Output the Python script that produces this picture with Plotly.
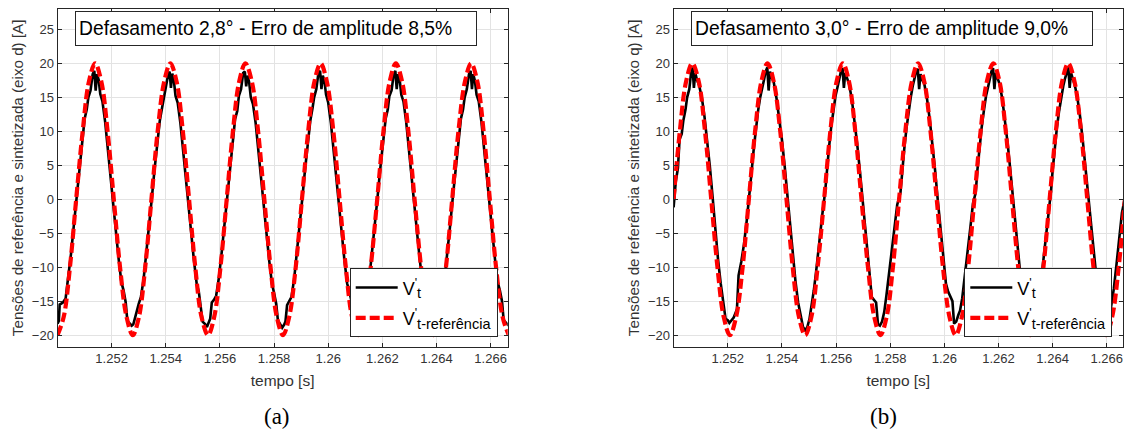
import plotly.graph_objects as go

T0 = 1.25  # start of the displayed window [s]

# ---------------------------------------------------------------------------
# Reference currents (V't-referência), time in ms after T0
# ---------------------------------------------------------------------------
t_ref_ms = [0.00, 0.23, 0.46, 0.69, 0.93, 1.16, 1.39, 1.62, 1.85, 2.08, 2.31, 2.55,
            2.78, 3.01, 3.24, 3.47, 3.70, 3.94, 4.17, 4.40, 4.63, 4.86, 5.09, 5.32,
            5.56, 5.79, 6.02, 6.25, 6.48, 6.71, 6.94, 7.18, 7.41, 7.64, 7.87, 8.10,
            8.33, 8.56, 8.80, 9.03, 9.26, 9.49, 9.72, 9.95, 10.19, 10.42, 10.65, 10.88,
            11.11, 11.34, 11.57, 11.81, 12.04, 12.27, 12.50, 12.73, 12.96, 13.19, 13.43, 13.66,
            13.89, 14.12, 14.35, 14.58, 14.81, 15.05, 15.28, 15.51, 15.74, 15.97, 16.20, 16.44,
            16.67]

vref_d = [-20.0, -17.3, -10.0, 0.0, 10.0, 17.3, 20.0, 17.3, 10.0, 0.0, -10.0, -17.3,
          -20.0, -17.3, -10.0, 0.0, 10.0, 17.3, 20.0, 17.3, 10.0, 0.0, -10.0, -17.3,
          -20.0, -17.3, -10.0, 0.0, 10.0, 17.3, 20.0, 17.3, 10.0, 0.0, -10.0, -17.3,
          -20.0, -17.3, -10.0, 0.0, 10.0, 17.3, 20.0, 17.3, 10.0, 0.0, -10.0, -17.3,
          -20.0, -17.3, -10.0, 0.0, 10.0, 17.3, 20.0, 17.3, 10.0, 0.0, -10.0, -17.3,
          -20.0, -17.3, -10.0, 0.0, 10.0, 17.3, 20.0, 17.3, 10.0, 0.0, -10.0, -17.3,
          -20.0]

vref_q = [0.0, 10.0, 17.3, 20.0, 17.3, 10.0, 0.0, -10.0, -17.3, -20.0, -17.3, -10.0,
          0.0, 10.0, 17.3, 20.0, 17.3, 10.0, 0.0, -10.0, -17.3, -20.0, -17.3, -10.0,
          0.0, 10.0, 17.3, 20.0, 17.3, 10.0, 0.0, -10.0, -17.3, -20.0, -17.3, -10.0,
          0.0, 10.0, 17.3, 20.0, 17.3, 10.0, 0.0, -10.0, -17.3, -20.0, -17.3, -10.0,
          0.0, 10.0, 17.3, 20.0, 17.3, 10.0, 0.0, -10.0, -17.3, -20.0, -17.3, -10.0,
          0.0, 10.0, 17.3, 20.0, 17.3, 10.0, 0.0, -10.0, -17.3, -20.0, -17.3, -10.0,
          0.0]

# ---------------------------------------------------------------------------
# Synthesized current V't, d axis (time in ms after T0)
# ---------------------------------------------------------------------------
t_d_ms = [
    0.00, 0.05, 0.08, 0.20, 0.30, 0.40, 0.50, 0.60, 0.70, 0.80, 0.90, 1.00, 1.08, 1.14, 1.22, 1.30, 1.36,
    1.41, 1.46, 1.52, 1.58, 1.66, 1.76, 1.86, 1.96, 2.06, 2.16, 2.26, 2.36, 2.44, 2.52, 2.58, 2.68, 2.74,
    2.80, 2.86, 2.92, 3.00, 3.08, 3.18, 3.28, 3.38, 3.48, 3.58, 3.68, 3.78, 3.86, 3.92, 4.00, 4.08, 4.14,
    4.19, 4.24, 4.30, 4.36, 4.44, 4.54, 4.64, 4.74, 4.84, 4.94, 5.04, 5.14, 5.22, 5.30, 5.36, 5.46, 5.52,
    5.60, 5.64, 5.70, 5.78, 5.86, 5.96, 6.06, 6.16, 6.26, 6.36, 6.46, 6.56, 6.64, 6.70, 6.78, 6.86, 6.92,
    6.97, 7.02, 7.08, 7.14, 7.22, 7.32, 7.42, 7.52, 7.62, 7.72, 7.82, 7.92, 8.00, 8.08, 8.14, 8.24, 8.30,
    8.38, 8.42, 8.48, 8.56, 8.64, 8.74, 8.84, 8.94, 9.04, 9.14, 9.24, 9.34, 9.42, 9.48, 9.56, 9.64, 9.70,
    9.75, 9.80, 9.86, 9.92, 10.00, 10.10, 10.20, 10.30, 10.40, 10.50, 10.60, 10.70, 10.78, 10.86, 10.92, 11.02, 11.08,
    11.16, 11.20, 11.26, 11.34, 11.42, 11.52, 11.62, 11.72, 11.82, 11.92, 12.02, 12.12, 12.20, 12.26, 12.34, 12.42, 12.48,
    12.53, 12.58, 12.64, 12.70, 12.78, 12.88, 12.98, 13.08, 13.18, 13.28, 13.38, 13.48, 13.56, 13.64, 13.70, 13.80, 13.86,
    13.94, 13.98, 14.04, 14.12, 14.20, 14.30, 14.40, 14.50, 14.60, 14.70, 14.80, 14.90, 14.98, 15.04, 15.12, 15.20, 15.26,
    15.31, 15.36, 15.42, 15.48, 15.56, 15.66, 15.76, 15.86, 15.96, 16.06, 16.16, 16.26, 16.34, 16.42, 16.48, 16.58, 16.67,
]
vt_d = [
    -18.3, -17.9, -15.5, -15.2, -14.6, -11.6, -8.0, -4.0, 0.2, 4.4, 8.4, 11.8, 13.2, 15.0, 16.0, 18.4, 18.9,
    16.0, 18.4, 17.6, 15.5, 14.4, 11.4, 7.6, 3.6, -0.6, -4.8, -8.8, -12.2, -13.4, -15.2, -17.9, -18.3, -18.6,
    -18.4, -17.3, -16.6, -15.4, -14.4, -11.8, -8.2, -4.2, 0.0, 4.2, 8.2, 11.6, 13.4, 14.8, 16.4, 18.2, 18.8,
    16.4, 18.5, 17.4, 15.2, 14.2, 11.2, 7.4, 3.4, -0.8, -5.0, -9.0, -12.4, -13.6, -15.8, -18.0, -18.4, -18.8,
    -18.0, -17.6, -15.2, -14.8, -14.2, -11.6, -8.0, -4.0, 0.2, 4.4, 8.4, 11.8, 13.0, 15.2, 16.2, 18.6, 18.8,
    16.6, 18.2, 17.2, 15.0, 14.0, 11.2, 7.4, 3.4, -0.8, -5.0, -9.0, -12.4, -13.8, -15.4, -17.8, -18.6, -18.9,
    -18.4, -18.0, -15.6, -15.0, -14.4, -11.8, -8.2, -4.2, 0.0, 4.2, 8.2, 11.6, 13.4, 15.0, 16.2, 18.6, 18.9,
    16.2, 18.2, 17.4, 15.4, 14.2, 11.2, 7.4, 3.4, -0.8, -5.0, -9.0, -12.4, -13.6, -15.0, -17.6, -18.0, -18.3,
    -18.2, -17.4, -15.4, -15.0, -14.6, -11.6, -8.0, -4.0, 0.2, 4.4, 8.4, 11.8, 13.2, 15.2, 16.0, 18.4, 18.9,
    16.2, 18.4, 17.6, 15.4, 14.4, 11.4, 7.6, 3.6, -0.6, -4.8, -8.8, -12.2, -13.6, -15.6, -18.0, -18.4, -18.8,
    -18.3, -17.8, -15.6, -15.2, -14.4, -11.6, -8.0, -4.0, 0.2, 4.4, 8.4, 11.8, 13.2, 15.0, 16.2, 18.4, 18.9,
    16.2, 18.4, 17.4, 15.4, 14.4, 11.4, 7.6, 3.6, -0.6, -4.8, -8.8, -12.2, -13.4, -15.0, -17.8, -18.2, -18.6,
]

# ---------------------------------------------------------------------------
# Synthesized current V't, q axis (time in ms after T0)
# ---------------------------------------------------------------------------
t_q_ms = [
    0.00, 0.04, 0.08, 0.16, 0.22, 0.30, 0.36, 0.44, 0.50, 0.58, 0.64, 0.70, 0.75, 0.80, 0.86, 0.94, 1.04, 1.14,
    1.24, 1.34, 1.44, 1.54, 1.64, 1.74, 1.84, 1.92, 2.00, 2.06, 2.14, 2.22, 2.34, 2.40, 2.50, 2.60, 2.70,
    2.82, 2.88, 2.96, 3.04, 3.12, 3.20, 3.28, 3.34, 3.40, 3.46, 3.51, 3.56, 3.62, 3.70, 3.80, 3.90, 4.00,
    4.10, 4.20, 4.30, 4.40, 4.50, 4.60, 4.70, 4.78, 4.86, 4.94, 5.02, 5.10, 5.18, 5.26, 5.34, 5.42, 5.50,
    5.60, 5.66, 5.74, 5.82, 5.90, 5.98, 6.06, 6.12, 6.18, 6.24, 6.29, 6.34, 6.40, 6.48, 6.58, 6.68, 6.78,
    6.88, 6.98, 7.08, 7.18, 7.26, 7.32, 7.40, 7.48, 7.55, 7.62, 7.70, 7.78, 7.86, 7.96, 8.06, 8.16, 8.26,
    8.38, 8.44, 8.52, 8.60, 8.68, 8.76, 8.84, 8.90, 8.96, 9.02, 9.07, 9.12, 9.18, 9.26, 9.36, 9.46, 9.56,
    9.66, 9.76, 9.86, 9.96, 10.06, 10.14, 10.22, 10.30, 10.36, 10.44, 10.52, 10.58, 10.66, 10.76, 10.86, 10.96, 11.06,
    11.16, 11.22, 11.30, 11.38, 11.46, 11.54, 11.62, 11.68, 11.74, 11.80, 11.85, 11.90, 11.96, 12.04, 12.14, 12.24, 12.34,
    12.44, 12.54, 12.64, 12.74, 12.84, 12.92, 13.00, 13.08, 13.16, 13.24, 13.32, 13.40, 13.48, 13.58, 13.68, 13.78, 13.86,
    13.94, 14.00, 14.08, 14.16, 14.24, 14.32, 14.40, 14.46, 14.52, 14.58, 14.63, 14.68, 14.74, 14.82, 14.92, 15.02, 15.12,
    15.22, 15.32, 15.42, 15.52, 15.62, 15.70, 15.78, 15.86, 15.94, 16.02, 16.10, 16.18, 16.26, 16.36, 16.46, 16.56, 16.67,
]
vt_q = [
    -1.2, 0.4, 2.6, 4.6, 8.8, 9.6, 11.6, 13.2, 15.0, 16.2, 18.4, 19.4, 16.4, 18.6, 17.6, 16.8, 15.0, 12.2,
    8.6, 4.8, 0.4, -4.4, -8.8, -12.4, -15.4, -17.6, -17.8, -18.2, -17.8, -17.4, -16.2, -11.2, -9.2, -6.6, -3.2,
    1.0, 4.0, 7.4, 10.4, 13.0, 15.0, 16.8, 17.6, 18.8, 19.4, 16.0, 18.8, 18.0, 17.2, 14.9, 12.1, 8.8,
    5.0, 0.8, -3.8, -8.2, -12.0, -15.2, -17.4, -18.8, -19.3, -18.8, -17.6, -15.8, -13.4, -10.8, -7.6, -5.2, -2.0,
    1.2, 4.2, 7.6, 10.6, 13.0, 15.2, 16.6, 17.8, 18.8, 19.3, 16.4, 18.6, 17.8, 17.0, 14.8, 11.8, 8.2,
    4.2, -0.2, -4.6, -8.8, -11.8, -14.4, -14.8, -15.2, -18.4, -18.6, -18.0, -16.6, -14.2, -11.0, -7.4, -4.0, -0.8,
    1.0, 4.0, 7.4, 10.4, 13.0, 15.0, 16.8, 17.8, 18.8, 19.2, 16.2, 18.4, 17.6, 17.0, 14.8, 11.8, 8.2,
    4.2, -0.2, -4.6, -8.8, -12.4, -13.6, -14.2, -15.0, -18.3, -18.0, -17.0, -16.4, -14.6, -11.4, -7.8, -4.2, -0.6,
    1.0, 4.2, 7.6, 10.6, 13.0, 15.2, 16.6, 17.8, 18.8, 19.3, 16.2, 18.6, 17.8, 17.0, 14.8, 11.8, 8.2,
    4.2, -0.2, -4.6, -8.8, -12.4, -15.0, -16.8, -18.0, -18.6, -18.4, -17.6, -16.2, -14.6, -11.8, -8.4, -4.8, -1.8,
    1.2, 4.2, 7.6, 10.6, 13.0, 15.2, 16.8, 17.8, 18.8, 19.4, 16.4, 18.6, 17.8, 16.8, 14.8, 12.0, 8.4,
    4.4, 0.0, -4.4, -8.6, -12.2, -14.8, -16.8, -18.0, -18.6, -18.4, -17.4, -15.6, -13.2, -9.6, -5.6, -2.0, 0.2,
]

# Axis ticks
x_tick_vals = [1.252, 1.254, 1.256, 1.258, 1.260, 1.262, 1.264, 1.266]
x_tick_text = ["1.252", "1.254", "1.256", "1.258", "1.26", "1.262", "1.264", "1.266"]
y_tick_vals = [-20, -15, -10, -5, 0, 5, 10, 15, 20, 25]

panel_titles = ["Defasamento 2,8° - Erro de amplitude 8,5%",
                "Defasamento 3,0° - Erro de amplitude 9,0%"]
y_titles = ["Tensões de referência e sintetizada (eixo d) [A]",
            "Tensões de referência e sintetizada (eixo q) [A]"]
captions = ["(a)", "(b)"]
SUB = "<sub><span style='font-size:14.5px'>{}</span></sub>"
name_vt = "V<sup>'</sup>" + SUB.format("t")
name_vref = "V<sup>'</sup>" + SUB.format("t-referência")


def to_seconds(ms_list):
    return [T0 + v / 1000.0 for v in ms_list]


W, H = 1126, 432
FONT = "Liberation Sans, Arial, sans-serif"
AX_COLOR = "#262626"
TXT = "#333333"
GRID = "#e3e3e3"

fig = go.Figure()

panels = [
    dict(xa="x", ya="y", leg="legend", t=t_d_ms, v=vt_d, vref=vref_d),
    dict(xa="x2", ya="y2", leg="legend2", t=t_q_ms, v=vt_q, vref=vref_q),
]
for i, p in enumerate(panels):
    fig.add_trace(go.Scatter(
        x=to_seconds(p["t"]), y=p["v"], mode="lines", name=name_vt,
        line=dict(color="black", width=2.6),
        xaxis=p["xa"], yaxis=p["ya"], legend=p["leg"], legendgroup=f"vt{i}",
    ))
    fig.add_trace(go.Scatter(
        x=to_seconds(t_ref_ms), y=p["vref"], mode="lines", name=name_vref,
        line=dict(color="#ff0000", width=4.2, dash="10px,4px", shape="spline", smoothing=1.0),
        xaxis=p["xa"], yaxis=p["ya"], legend=p["leg"], legendgroup=f"vr{i}",
    ))

x_dom = [[57.5 / W, 507.7 / W], [673.6 / W, 1123.0 / W]]
y_dom = [1 - 346.7 / H, 1 - 9.0 / H]
x_rng = [[1.25, 1.26663], [1.25, 1.26660]]

axis_common = dict(
    showline=True, linecolor=AX_COLOR, linewidth=1, mirror="ticks",
    ticks="inside", ticklen=4, tickcolor=AX_COLOR, tickwidth=1,
    showgrid=True, gridcolor=GRID, gridwidth=1, zeroline=False,
    tickfont=dict(family=FONT, size=13, color=TXT),
)

for i in range(2):
    sfx = "" if i == 0 else "2"
    fig.update_layout(**{
        f"xaxis{sfx}": dict(
            axis_common, domain=x_dom[i], range=x_rng[i], anchor=f"y{sfx}",
            tickmode="array", tickvals=x_tick_vals, ticktext=x_tick_text,
            title=dict(text="tempo [s]", font=dict(family=FONT, size=15.5, color=TXT), standoff=9),
        ),
        f"yaxis{sfx}": dict(
            axis_common, domain=y_dom, range=[-21.7, 28], anchor=f"x{sfx}",
            tickmode="array", tickvals=y_tick_vals,
            title=dict(text=y_titles[i], font=dict(family=FONT, size=15.2, color=TXT), standoff=4),
        ),
    })

legend_common = dict(
    xanchor="right", yanchor="bottom", bgcolor="white",
    bordercolor=AX_COLOR, borderwidth=1,
    font=dict(family=FONT, size=18, color="black"),
    itemwidth=42, tracegroupgap=4, traceorder="grouped",
)
fig.update_layout(
    legend=dict(legend_common, x=497.7 / W, y=1 - 337.3 / H),
    legend2=dict(legend_common, x=1112.3 / W, y=1 - 337.3 / H),
)

box_left = [75.0, 691.0]
for i in range(2):
    fig.add_annotation(
        xref="paper", yref="paper", x=box_left[i] / W, y=1 - 11.0 / H,
        xanchor="left", yanchor="top", text=panel_titles[i], showarrow=False,
        align="left", width=394, height=27, borderpad=3,
        bgcolor="white", bordercolor=AX_COLOR, borderwidth=1,
        font=dict(family=FONT, size=19.3, color="black"),
    )
    fig.add_annotation(
        xref="paper", yref="paper", x=[276.7, 883.0][i] / W, y=1 - 416.0 / H,
        xanchor="center", yanchor="middle", text=captions[i], showarrow=False,
        font=dict(family="Liberation Serif, DejaVu Serif, serif", size=23, color="black"),
    )

fig.update_layout(
    width=W, height=H, margin=dict(l=0, r=0, t=0, b=0),
    paper_bgcolor="white", plot_bgcolor="white", showlegend=True,
)

fig.write_html("out.html")
